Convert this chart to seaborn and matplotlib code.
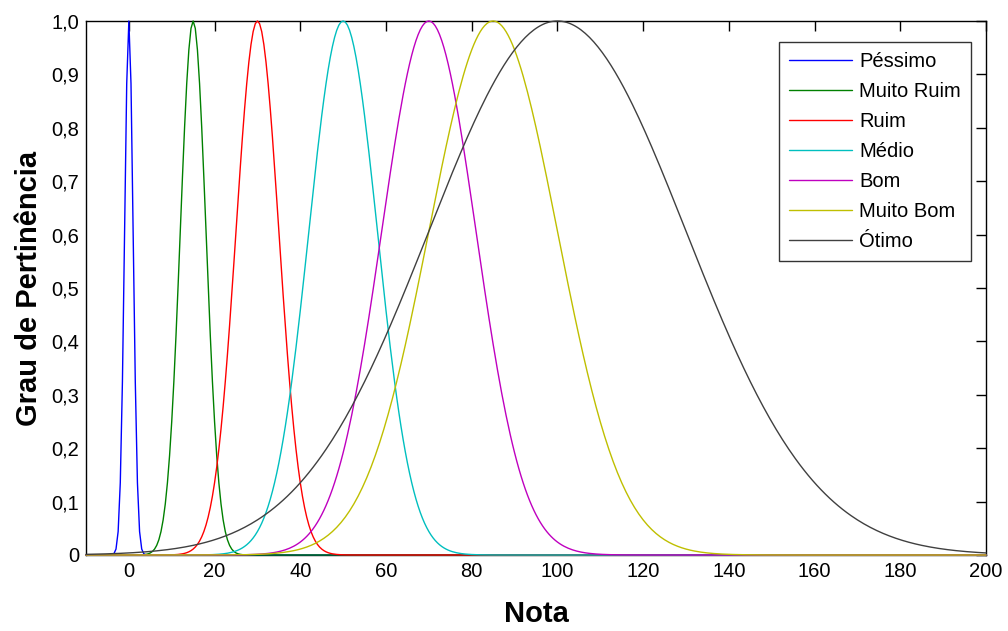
import numpy as np
import pandas as pd
import matplotlib
matplotlib.use('Agg')
import matplotlib.pyplot as plt
from matplotlib.ticker import FuncFormatter
import seaborn as sns

# Gaussian membership functions: centre and spread
labels = ['Péssimo', 'Muito Ruim', 'Ruim', 'Médio', 'Bom', 'Muito Bom', 'Ótimo']
centers = [0, 15, 30, 50, 70, 85, 100]
sigmas = [1, 3, 5, 8, 11, 15, 30]
colors = ['#0000ff', '#008000', '#ff0000', '#00bfbf', '#bf00bf', '#bfbf00', '#404040']

x_ticks = [0, 20, 40, 60, 80, 100, 120, 140, 160, 180, 200]
y_ticks = [0, 0.1, 0.2, 0.3, 0.4, 0.5, 0.6, 0.7, 0.8, 0.9, 1.0]

nota = np.arange(-10, 200.5, 0.5)

frames = []
for lab, c, s in zip(labels, centers, sigmas):
    frames.append(pd.DataFrame({
        'Nota': nota,
        'Grau': np.exp(-(nota - c) ** 2 / (2 * s ** 2)),
        'Conjunto': lab,
    }))
df = pd.concat(frames, ignore_index=True)

sns.set_style('white')
plt.rcParams['font.family'] = ['Liberation Sans', 'DejaVu Sans']
plt.rcParams['text.color'] = 'black'
plt.rcParams['axes.labelcolor'] = 'black'

fig = plt.figure(figsize=(10.08, 6.31), dpi=100)
ax = fig.add_axes([86 / 1008, 76 / 631, 900 / 1008, 534 / 631])

sns.lineplot(data=df, x='Nota', y='Grau', hue='Conjunto', hue_order=labels,
             palette=dict(zip(labels, colors)), linewidth=1.0, ax=ax,
             clip_on=False, zorder=3)

ax.set_xlim(-10, 200)
ax.set_ylim(0, 1)
ax.set_xticks(x_ticks)
ax.set_yticks(y_ticks)
ax.yaxis.set_major_formatter(FuncFormatter(
    lambda v, p: '0' if abs(v) < 1e-9 else f'{v:.1f}'.replace('.', ',')))
ax.tick_params(direction='in', length=7, width=1, top=True, right=True,
               labelsize=14.5, pad=5, colors='black')
for sp in ax.spines.values():
    sp.set_visible(True)
    sp.set_color('black')
    sp.set_linewidth(1)

ax.set_xlabel('Nota', fontsize=21, fontweight='bold', labelpad=14)
ax.set_ylabel('Grau de Pertinência', fontsize=21, fontweight='bold', labelpad=6)

leg = ax.legend(loc='upper right', bbox_to_anchor=(0.983, 0.961), borderaxespad=0,
                fontsize=14.5, frameon=True, fancybox=False, handlelength=3.1,
                handletextpad=0.35, labelspacing=0.55, borderpad=0.5)
leg.get_frame().set_edgecolor('black')
leg.get_frame().set_linewidth(1)
for t in leg.get_texts():
    t.set_color('black')

fig.savefig('out.png', dpi=100)
